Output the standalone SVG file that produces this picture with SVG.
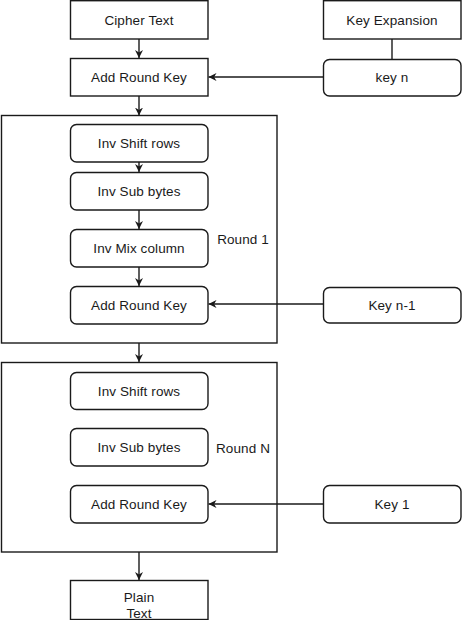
<svg xmlns="http://www.w3.org/2000/svg" width="463" height="620" viewBox="0 0 463 620">
<style>
.b{fill:#fff;stroke:#1a1a1a;stroke-width:1.4}
.t{font-family:"Liberation Sans",Arial,sans-serif;font-size:13.5px;letter-spacing:0.1px;fill:#1a1a1a;text-anchor:middle;dominant-baseline:central}
.c{fill:none;stroke:#1a1a1a;stroke-width:1.4}
</style>
<defs>
<marker id="a" viewBox="0 0 10 10" refX="10" refY="5" markerWidth="8" markerHeight="8" markerUnits="userSpaceOnUse" orient="auto">
<path d="M0,0 L10,5 L0,10 L3,5 Z" fill="#1a1a1a"/>
</marker>
</defs>
<rect width="463" height="620" fill="#fff"/>
<g id="round1">
<rect class="b" x="1.5" y="115.5" width="275.5" height="227.5"/>
<text class="t" x="243" y="239">Round 1</text>
</g>
<g id="roundN">
<rect class="b" x="1.5" y="362.5" width="275.5" height="189.5"/>
<text class="t" x="243" y="448">Round N</text>
</g>
<g id="cipher"><rect class="b" x="70.5" y="0.7" width="137.5" height="38.3"/><text class="t" x="139" y="20">Cipher Text</text></g>
<g id="keyexp"><rect class="b" x="323.5" y="0.7" width="137.5" height="38.3"/><text class="t" x="392" y="20">Key Expansion</text></g>
<g id="ark0"><rect class="b" x="70.5" y="58.5" width="137.5" height="37.5"/><text class="t" x="139" y="77">Add Round Key</text></g>
<g id="keyn"><rect class="b" x="323.5" y="59.5" width="137.5" height="36.5" rx="6"/><text class="t" x="392" y="77">key n</text></g>
<g id="isr1"><rect class="b" x="70.5" y="124.5" width="137.5" height="37.5" rx="6"/><text class="t" x="139" y="143">Inv Shift rows</text></g>
<g id="isb1"><rect class="b" x="70.5" y="172.5" width="137.5" height="37.5" rx="6"/><text class="t" x="139" y="191">Inv Sub bytes</text></g>
<g id="imc1"><rect class="b" x="70.5" y="229.5" width="137.5" height="37.5" rx="6"/><text class="t" x="139" y="248">Inv Mix column</text></g>
<g id="ark1"><rect class="b" x="70.5" y="286.5" width="137.5" height="37.5" rx="6"/><text class="t" x="139" y="305">Add Round Key</text></g>
<g id="keyn1"><rect class="b" x="323.5" y="287.5" width="137.5" height="35.5" rx="6"/><text class="t" x="392" y="305">Key n-1</text></g>
<g id="isrN"><rect class="b" x="70.5" y="372.5" width="137.5" height="37" rx="6"/><text class="t" x="139" y="391">Inv Shift rows</text></g>
<g id="isbN"><rect class="b" x="70.5" y="428.5" width="137.5" height="37.5" rx="6"/><text class="t" x="139" y="447">Inv Sub bytes</text></g>
<g id="arkN"><rect class="b" x="70.5" y="485.5" width="137.5" height="37.5" rx="6"/><text class="t" x="139" y="504">Add Round Key</text></g>
<g id="key1"><rect class="b" x="323.5" y="485.5" width="137.5" height="37.5" rx="6"/><text class="t" x="392" y="504">Key 1</text></g>
<g id="plain"><rect class="b" x="70.5" y="580.5" width="137.5" height="39"/><text class="t" x="139" y="597">Plain</text><text class="t" x="139" y="613">Text</text></g>
<g id="connectors">
<path class="c" d="M139,39 V58" marker-end="url(#a)"/>
<path class="c" d="M392,39 V59.5"/>
<path class="c" d="M323.5,77 H208.5" marker-end="url(#a)"/>
<path class="c" d="M139,96 V115.5" marker-end="url(#a)"/>
<path class="c" d="M139,162 V172" marker-end="url(#a)"/>
<path class="c" d="M139,210 V229" marker-end="url(#a)"/>
<path class="c" d="M139,267 V286" marker-end="url(#a)"/>
<path class="c" d="M323.5,304 H208.5" marker-end="url(#a)"/>
<path class="c" d="M139,343 V362" marker-end="url(#a)"/>
<path class="c" d="M323.5,504 H208.5" marker-end="url(#a)"/>
<path class="c" d="M139,552 V580" marker-end="url(#a)"/>
</g>
</svg>
